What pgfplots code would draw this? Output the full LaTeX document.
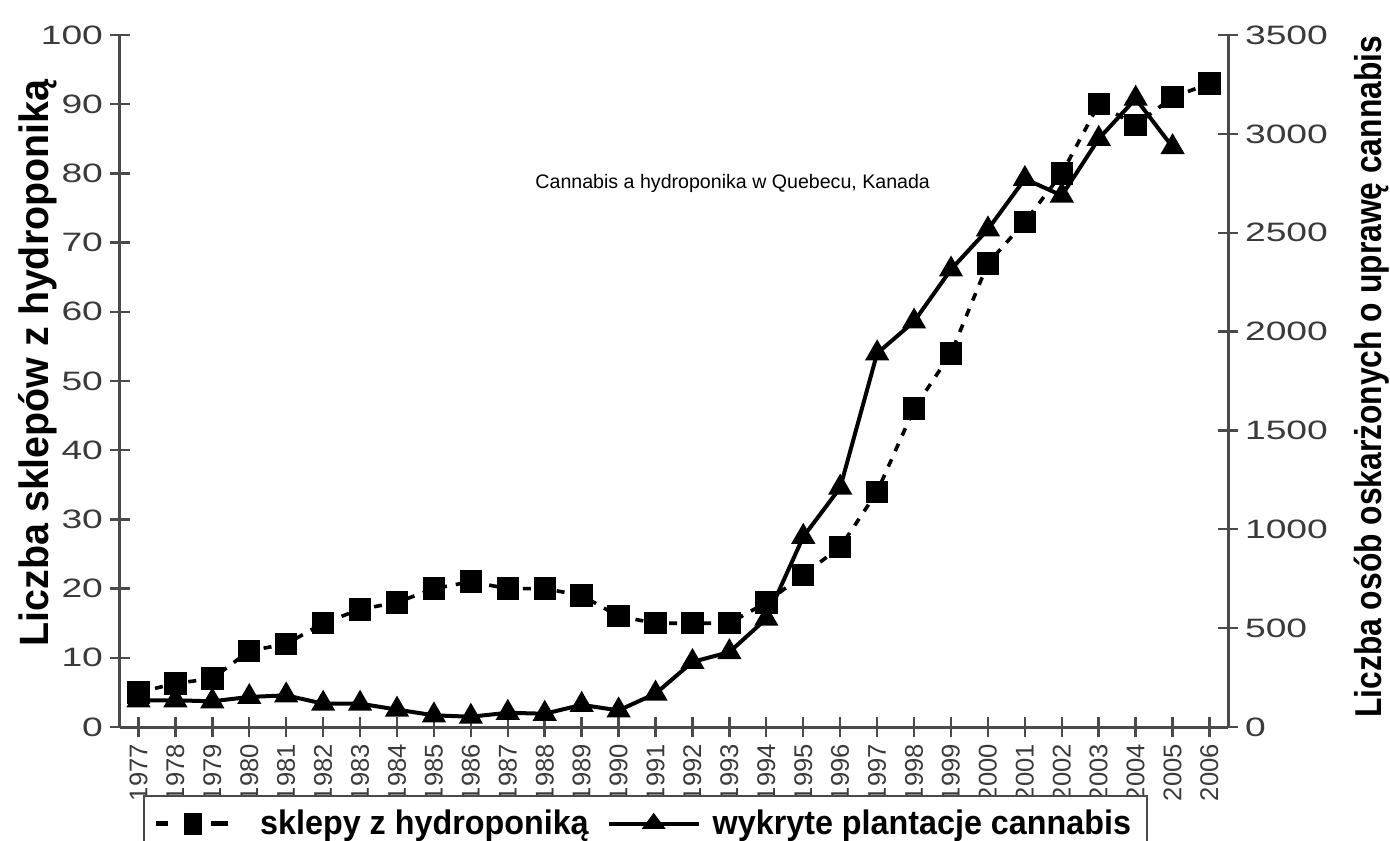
\documentclass[border=0pt]{standalone}
\usepackage{pgfplots}
\pgfplotsset{compat=1.18}
\usepackage{fontspec}
\setmainfont{Liberation Sans}
\newfontfamily\narrowfont[FakeStretch=0.85]{Liberation Sans}
\newfontfamily\labfont[FakeStretch=0.96]{Liberation Sans}
\newfontfamily\legfont[FakeStretch=0.95]{Liberation Sans}
\newfontfamily\titlefont[FakeStretch=1.0]{Liberation Sans}
\newfontfamily\tickfont[FakeStretch=1.4]{Liberation Sans}
\definecolor{tickgray}{HTML}{3A3A3A}
\definecolor{axgray}{HTML}{4A4A4A}

\pgfplotstableread{
year shops
1977 5
1978 6.3
1979 7
1980 11
1981 12
1982 15
1983 17
1984 18
1985 20
1986 21
1987 20
1988 20
1989 19
1990 16
1991 15
1992 15
1993 15
1994 18
1995 22
1996 26
1997 34
1998 46
1999 54
2000 67
2001 73
2002 80
2003 90
2004 87
2005 91
2006 93
}\shops

\pgfplotstableread{
year plants
1977 135
1978 135
1979 130
1980 152
1981 160
1982 118
1983 118
1984 88
1985 59
1986 52
1987 72
1988 67
1989 112
1990 84
1991 169
1992 329
1993 379
1994 548
1995 962
1996 1211
1997 1890
1998 2051
1999 2314
2000 2517
2001 2772
2002 2688
2003 2975
2004 3178
2005 2933
}\plants

\begin{document}
\begin{tikzpicture}
\useasboundingbox (-60pt,-56.5pt) rectangle (635pt,363.5pt);
\begin{axis}[
  at={(0pt,0pt)}, anchor=south west,
  scale only axis, width=554pt, height=346pt,
  xmin=1976.5, xmax=2006.5, ymin=0, ymax=100,
  axis x line*=bottom, axis y line*=left,
  axis line style={axgray, line width=1.5pt, -},
  xtick={1977,...,2006}, ytick={0,10,...,100},
  tick style={axgray, line width=1.2pt},
  tick align=center, major tick length=10pt,
  /pgf/number format/assume math mode=true,
  /pgf/number format/1000 sep={},
  x tick label style={rotate=90, anchor=east, font=\fontsize{12.8}{13}\selectfont, text=tickgray},
  y tick label style={font=\tickfont\fontsize{13.3}{14}\selectfont, text=tickgray},
  ylabel={\labfont\bfseries Liczba sklepów z hydroponiką},
  ylabel style={font=\fontsize{20.5}{21}\selectfont, at={(axis description cs:-0.074,0.526)}, anchor=center},
]
\addplot[black, line width=1.8pt, dash pattern=on 4pt off 4.5pt, mark=square*, mark size=4.7pt, mark options={solid}] table[x=year, y=shops] {\shops};
\end{axis}
\begin{axis}[
  at={(0pt,0pt)}, anchor=south west,
  scale only axis, width=554pt, height=346pt,
  xmin=1976.5, xmax=2006.5, ymin=0, ymax=3500,
  axis x line=none, axis y line*=right,
  axis line style={axgray, line width=1.5pt, -},
  ytick={0,500,...,3500},
  tick style={axgray, line width=1.2pt},
  tick align=center, major tick length=10pt,
  /pgf/number format/assume math mode=true,
  /pgf/number format/1000 sep={},
  y tick label style={font=\tickfont\fontsize{13.3}{14}\selectfont, text=tickgray},
  ylabel={\narrowfont\bfseries Liczba osób oskarżonych o uprawę cannabis},
  ylabel style={font=\fontsize{18.7}{20}\selectfont, at={(axis description cs:1.13,0.506)}, anchor=center},
  legend columns=-1,
  legend style={at={(axis description cs:0.0208,-0.098)}, anchor=north west,
    draw=axgray, line width=1.2pt, font=\legfont\bfseries\fontsize{17}{18}\selectfont,
    inner xsep=6pt, inner ysep=5pt,
    /tikz/every even column/.append style={column sep=7pt}},
]
\addlegendimage{legend image code/.code={
  \path[draw=none] (0pt,0pt) -- (50pt,0pt);
  \fill[black, draw=none] (0pt,-1.2pt) rectangle (6pt,1.2pt);
  \fill[black, draw=none] (14pt,-5.5pt) rectangle (23pt,5.5pt);
  \fill[black, draw=none] (27.5pt,-1.2pt) rectangle (36pt,1.2pt);
}}
\addlegendentry{sklepy z hydroponiką}
\addplot[black, line width=2pt, mark=triangle*, mark size=5pt,
  legend image code/.code={
    \path[draw=none] (0pt,0pt) -- (50pt,0pt);
    \draw[black, line width=2pt] (0pt,0pt) -- (45pt,0pt);
    \fill[black, draw=none] (22.5pt,5.5pt) -- (16.5pt,-2.5pt) -- (28.5pt,-2.5pt) -- cycle;
  }] table[x=year, y=plants] {\plants};
\addlegendentry{wykryte plantacje cannabis}
\node[font=\titlefont\fontsize{9.8}{11}\selectfont, anchor=center] at (rel axis cs:0.553,0.786) {Cannabis a hydroponika w Quebecu, Kanada};
\end{axis}
\end{tikzpicture}
\end{document}
